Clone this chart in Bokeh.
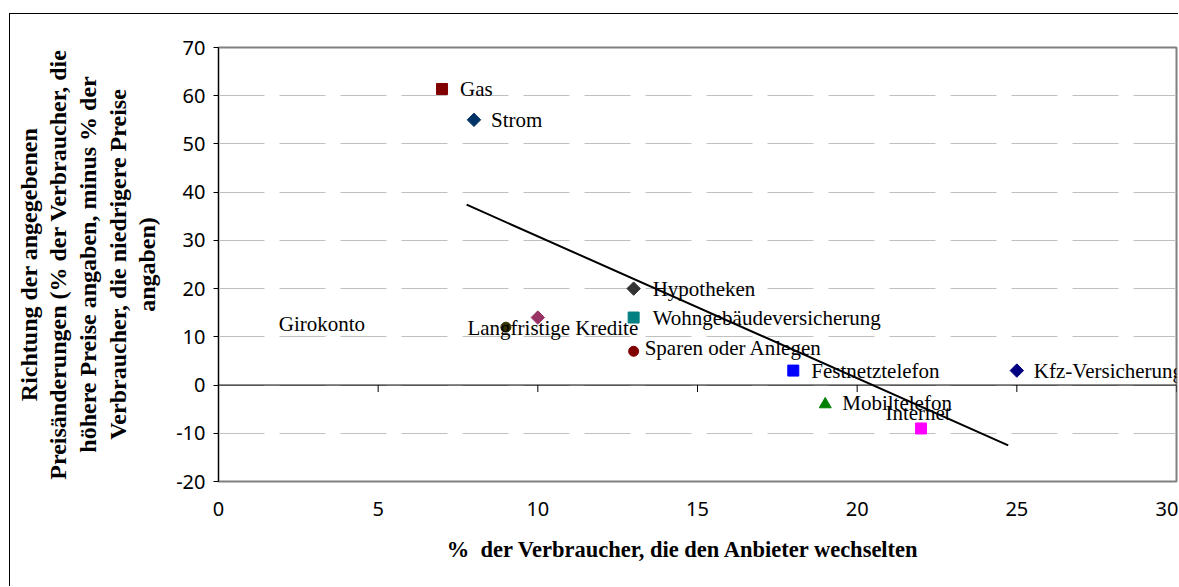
import math
from bokeh.plotting import figure
from bokeh.models import ColumnDataSource, FixedTicker, Range1d, Span
from bokeh.embed import file_html
from bokeh.resources import INLINE
from bokeh.core.properties import value

# ---------------- data ----------------
products = ["Gas", "Strom", "Hypotheken", "Wohngebäudeversicherung",
            "Langfristige Kredite", "Girokonto", "Sparen oder Anlegen",
            "Festnetztelefon", "Kfz-Versicherung", "Mobiltelefon", "Internet"]
switch_pct = [7, 8, 13, 13, 10, 9, 13, 18, 25, 19, 22]
price_dir = [61.4, 55, 20, 14, 14, 12, 7, 3, 3, -4, -9]

trend_x = [7.77, 24.73]
trend_y = [37.4, -12.5]

x_ticks = [0, 5, 10, 15, 20, 25, 30]
x_tick_labels = ["0", "5", "10", "15", "20", "25", "30"]
y_ticks = [-20, -10, 0, 10, 20, 30, 40, 50, 60, 70]
y_tick_labels = ["-20", "-10", "0", "10", "20", "30", "40", "50", "60", "70"]

x_title = "%\u00a0\u00a0der Verbraucher, die den Anbieter wechselten" + "\u00a0" * 5
y_title = ("Richtung der angegebenen\n"
           "Preisänderungen (% der Verbraucher, die\n"
           "höhere Preise angaben, minus % der\n"
           "Verbraucher, die niedrigere Preise\n"
           "angaben)")

# ---------------- styles ----------------
shapes = ["square", "diamond", "diamond", "square", "diamond", "circle",
          "circle", "square", "diamond", "triangle", "square"]
colors = ["#800000", "#003366", "#333333", "#008080", "#993366", "#333300",
          "#800000", "#0000ff", "#000080", "#008000", "#ff00ff"]
label_dx = [18, 17, 19, 19, 15, -184, 11, 18, 17, 17, -3]
label_dy = [0, 0, 0, 0, 10, -3, -3, 0, 0, -1, -15]
label_align = ["left", "left", "left", "left", "center", "center",
               "left", "left", "left", "left", "center"]

shape_marker = {"square": "square", "diamond": "square", "circle": "circle", "triangle": "triangle"}
shape_angle = {"square": 0.0, "diamond": math.pi / 4, "circle": 0.0, "triangle": 0.0}
shape_size = {"square": 11, "diamond": 9.5, "circle": 10, "triangle": 12}

src = ColumnDataSource(dict(
    x=switch_pct, y=price_dir, name=products, color=colors,
    marker=[shape_marker[s] for s in shapes],
    angle=[shape_angle[s] for s in shapes],
    size=[shape_size[s] for s in shapes],
    dx=label_dx, dy=label_dy, align=label_align,
))

SERIF = "Liberation Serif"
SANS = "Noto Sans"

W, H = 1169, 573
B_LEFT, B_RIGHT, B_TOP, B_BOTTOM = 208, 3, 33, 106
FRAME_H = H - B_TOP - B_BOTTOM

p = figure(width=W, height=H, x_range=Range1d(0, 30), y_range=Range1d(-20, 70),
           output_backend="svg", toolbar_location=None,
           min_border_left=B_LEFT, min_border_right=B_RIGHT,
           min_border_top=B_TOP, min_border_bottom=B_BOTTOM)
p.styles = {"margin-left": "9px", "margin-top": "13px",
            "border-left": "1px solid black", "border-top": "1px solid black"}
p.background_fill_color = "white"
p.border_fill_color = "white"
p.outline_line_color = "#808080"
p.outline_line_width = 2

# grid
p.xgrid.visible = False
p.ygrid.ticker = FixedTicker(ticks=y_ticks)
p.ygrid.grid_line_color = "#c0c0c0"
p.ygrid.grid_line_width = 1
p.ygrid.grid_line_dash = "46 15"

# y axis
ya = p.yaxis[0]
ya.ticker = FixedTicker(ticks=y_ticks)
ya.major_label_overrides = dict(zip(y_ticks, y_tick_labels))
ya.axis_line_color = "black"
ya.major_tick_line_color = "black"
ya.major_tick_out = 5
ya.major_tick_in = 0
ya.minor_tick_out = 0
ya.minor_tick_in = 0
ya.major_label_standoff = 8
ya.major_label_text_font = SANS
ya.major_label_text_font_size = "20px"
ya.major_label_text_color = "black"
ya.axis_label = y_title
ya.axis_label_text_font = SERIF
ya.axis_label_text_font_style = "bold"
ya.axis_label_text_font_size = "24px"
ya.axis_label_text_color = "black"
ya.axis_label_text_line_height = 1.14
ya.axis_label_standoff = 13

# x axis: labels only at bottom
xa = p.xaxis[0]
xa.ticker = FixedTicker(ticks=x_ticks)
xa.major_label_overrides = dict(zip(x_ticks, x_tick_labels))
xa.axis_line_color = None
xa.major_tick_line_color = None
xa.minor_tick_line_color = None
xa.major_tick_out = 0
xa.major_tick_in = 0
xa.minor_tick_out = 0
xa.minor_tick_in = 0
xa.major_label_standoff = 20
xa.major_label_text_font = SANS
xa.major_label_text_font_size = "20px"
xa.major_label_text_color = "black"
xa.axis_label = x_title
xa.axis_label_text_font = SERIF
xa.axis_label_text_font_style = "bold"
xa.axis_label_text_font_size = "22.5px"
xa.axis_label_text_color = "black"
xa.axis_label_standoff = 18

# zero line with tick marks
p.add_layout(Span(location=0, dimension="width", line_color="black", line_width=1))
tick_len = 7 * (70 - (-20)) / FRAME_H
p.segment(x0=x_ticks, y0=[0] * len(x_ticks), x1=x_ticks, y1=[-tick_len] * len(x_ticks),
          line_color="black", line_width=1)

# trend line
p.line(trend_x, trend_y, line_color="black", line_width=2)

# markers
p.scatter(x="x", y="y", marker="marker", size="size", angle="angle",
          fill_color="color", line_color="color", source=src)

# labels
p.text(x="x", y="y", text="name", x_offset="dx", y_offset="dy",
       text_align="align", text_baseline="middle",
       text_font=value(SERIF), text_font_size="21px", text_color="black", source=src)

open("out.html", "w").write(file_html(p, INLINE))
